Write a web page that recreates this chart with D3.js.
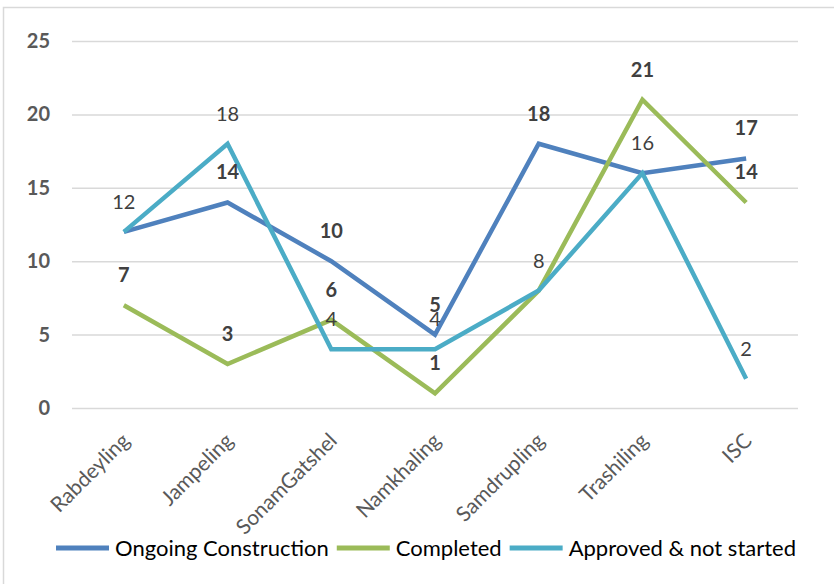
<!DOCTYPE html>
<html>
<head>
<meta charset="utf-8">
<script src="https://cdn.jsdelivr.net/npm/d3@7"></script>
<style>
  body { margin: 0; background: #fff; }
  svg { display: block; font-family: Lato, "Open Sans", sans-serif; }
</style>
</head>
<body>
<svg id="chart" width="834" height="584"></svg>
<script>
var categories = ["Rabdeyling", "Jampeling", "SonamGatshel", "Namkhaling", "Samdrupling", "Trashiling", "ISC"];
var ongoing = [12, 14, 10, 5, 18, 16, 17];
var completed = [7, 3, 6, 1, 8, 21, 14];
var approved = [12, 18, 4, 4, 8, 16, 2];
var yTicks = [0, 5, 10, 15, 20, 25];

var series = [
  { name: "Ongoing Construction", values: ongoing, color: "#4f81bd", bold: true },
  { name: "Completed", values: completed, color: "#9bbb59", bold: true },
  { name: "Approved & not started", values: approved, color: "#4bacc6", bold: false }
];

var margin = { top: 41, right: 36, bottom: 176, left: 72 };
var width = 834, height = 584;
var svg = d3.select("#chart");

// chart frame (cut off at right and bottom like the source)
svg.append("path")
  .attr("d", "M3.5," + (height + 2) + "V7.5H" + (width + 2))
  .attr("fill", "none")
  .attr("stroke", "#d9d9d9")
  .attr("stroke-width", 1.5);

var x = d3.scaleBand()
  .domain(categories)
  .range([margin.left, width - margin.right]);
var y = d3.scaleLinear()
  .domain([0, 25])
  .range([height - margin.bottom, margin.top]);

// gridlines + y labels
var yAxis = svg.append("g")
  .attr("transform", "translate(" + margin.left + ",0)")
  .call(d3.axisLeft(y).tickValues(yTicks).tickSize(-(width - margin.left - margin.right)).tickPadding(22));
yAxis.select(".domain").remove();
yAxis.selectAll(".tick line").attr("stroke", "#d9d9d9").attr("stroke-width", 1.5);
yAxis.selectAll(".tick text")
  .attr("fill", "#595959")
  .attr("font-size", 20)
  .attr("font-weight", "bold")
  .attr("font-family", "Lato, sans-serif");

// x labels
var xAxis = svg.append("g")
  .attr("transform", "translate(0," + (height - margin.bottom) + ")")
  .call(d3.axisBottom(x).tickSize(0).tickFormat(""));
xAxis.select(".domain").remove();
xAxis.selectAll(".tick").append("text")
  .attr("transform", "translate(7,34) rotate(-45)")
  .attr("text-anchor", "end")
  .attr("fill", "#595959")
  .attr("font-size", 21)
  .attr("font-family", "Lato, sans-serif")
  .text(function(d) { return d; });

var line = d3.line()
  .x(function(d, i) { return x(categories[i]) + x.bandwidth() / 2; })
  .y(function(d) { return y(d); });

series.forEach(function(s) {
  svg.append("path")
    .datum(s.values)
    .attr("fill", "none")
    .attr("stroke", s.color)
    .attr("stroke-width", 4.5)
    .attr("stroke-linejoin", "miter")
    .attr("d", line);
});

// data labels (drawn after all lines); a label fully covered by a later
// series' identical label is left out, as in the source
series.forEach(function(s, si) {
  var shown = s.values.map(function(v, i) {
    return { v: v, i: i, hidden: series.slice(si + 1).some(function(o) { return o.values[i] === v; }) };
  }).filter(function(d) { return !d.hidden; });
  svg.append("g").selectAll("text")
    .data(shown)
    .enter()
    .append("text")
    .attr("x", function(d) { return x(categories[d.i]) + x.bandwidth() / 2; })
    .attr("y", function(d) { return y(d.v) - 30; })
    .attr("dy", "0.35em")
    .attr("text-anchor", "middle")
    .attr("font-size", 20)
    .attr("font-weight", s.bold ? "bold" : "normal")
    .attr("fill", "#404040")
    .text(function(d) { return d.v; });
});

// legend
var legend = svg.append("g");
var lx = 0;
series.forEach(function(s, i) {
  var item = legend.append("g").attr("transform", "translate(" + lx + ",0)");
  item.append("line")
    .attr("x1", 0).attr("x2", 53)
    .attr("y1", 0).attr("y2", 0)
    .attr("stroke", s.color)
    .attr("stroke-width", 5);
  var t = item.append("text")
    .attr("x", 59)
    .attr("dy", "0.35em")
    .attr("font-size", 22)
    .attr("fill", "#000")
    .text(s.name);
  lx += 59 + t.node().getComputedTextLength() + 8;
});
lx -= 8;
legend.attr("transform", "translate(" + (426 - lx / 2) + ",548)");
</script>
</body>
</html>
